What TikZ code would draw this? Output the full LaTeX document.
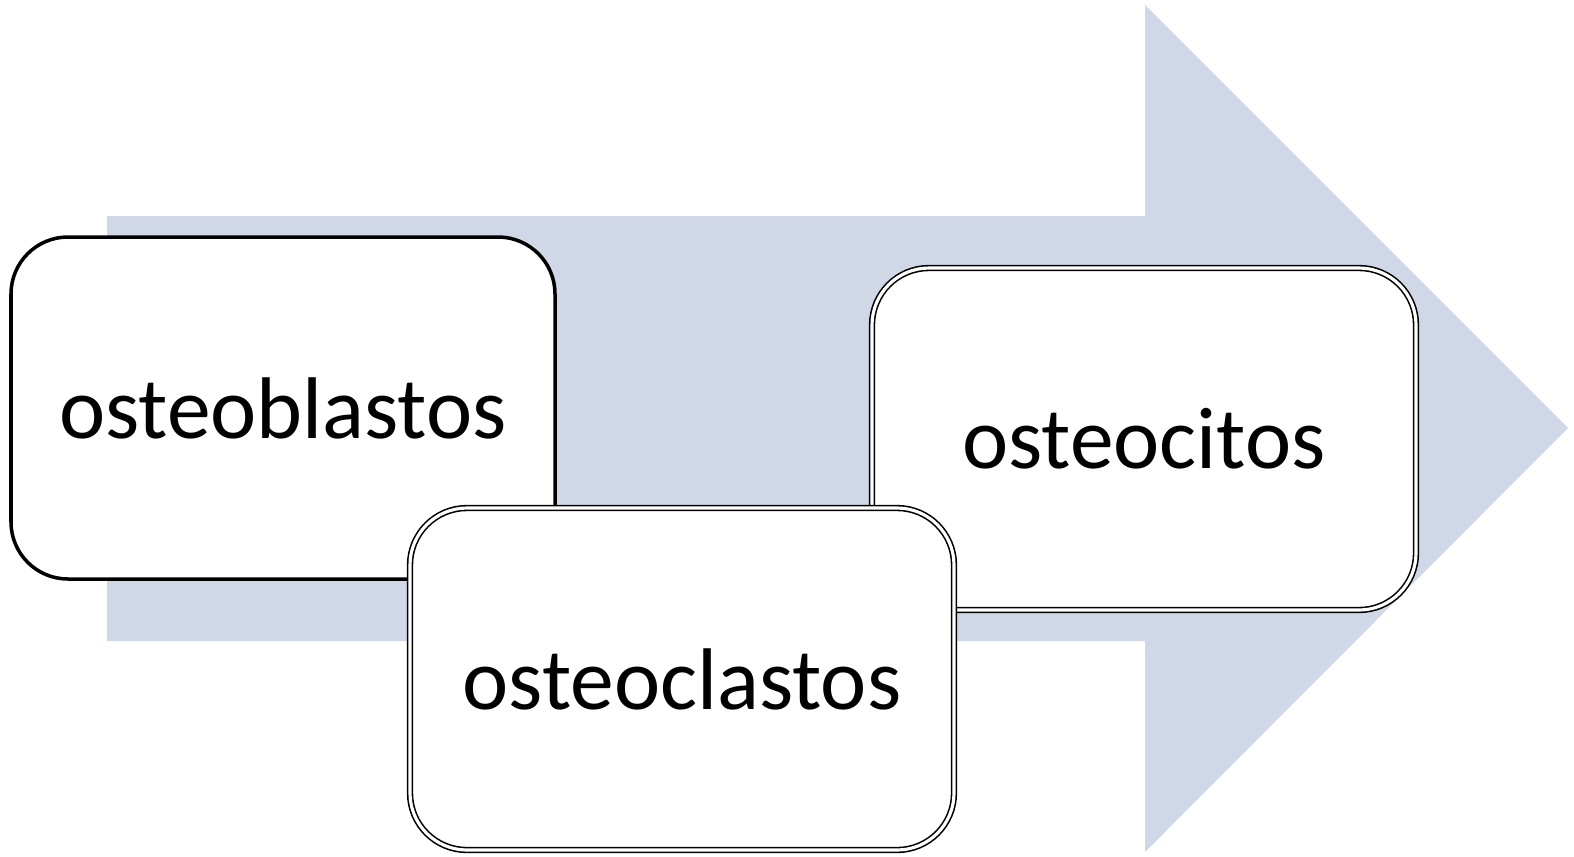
\documentclass[tikz,border=0pt]{standalone}
\usepackage{fontspec}
\setmainfont{Carlito}
\definecolor{arrowblue}{RGB}{208,216,232}

\tikzset{
  cell/.style={draw, fill=white, rounded corners=0.57cm, minimum width=5.44cm, minimum height=3.42cm, font=\fontsize{24.9}{29}\selectfont},
  cellsingle/.style={cell, line width=1pt},
  celldouble/.style={cell, double, line width=0.45pt, double distance=0.9pt}
}

\begin{document}
\begin{tikzpicture}

\useasboundingbox (0,0) rectangle (15.74,8.56);

% big arrow behind
\fill[arrowblue] (1.07,6.40) -- (11.45,6.40) -- (11.45,8.51) -- (15.68,4.28) -- (11.45,0.04) -- (11.45,2.15) -- (1.07,2.15) -- cycle;

\node (blastos) at (2.83, 4.48) [cellsingle] {osteoblastos};

\node (citos) at (11.44, 4.17) [celldouble] {osteocitos};

\node (clastos) at (6.82, 1.77) [celldouble] {osteoclastos};

\end{tikzpicture}
\end{document}
